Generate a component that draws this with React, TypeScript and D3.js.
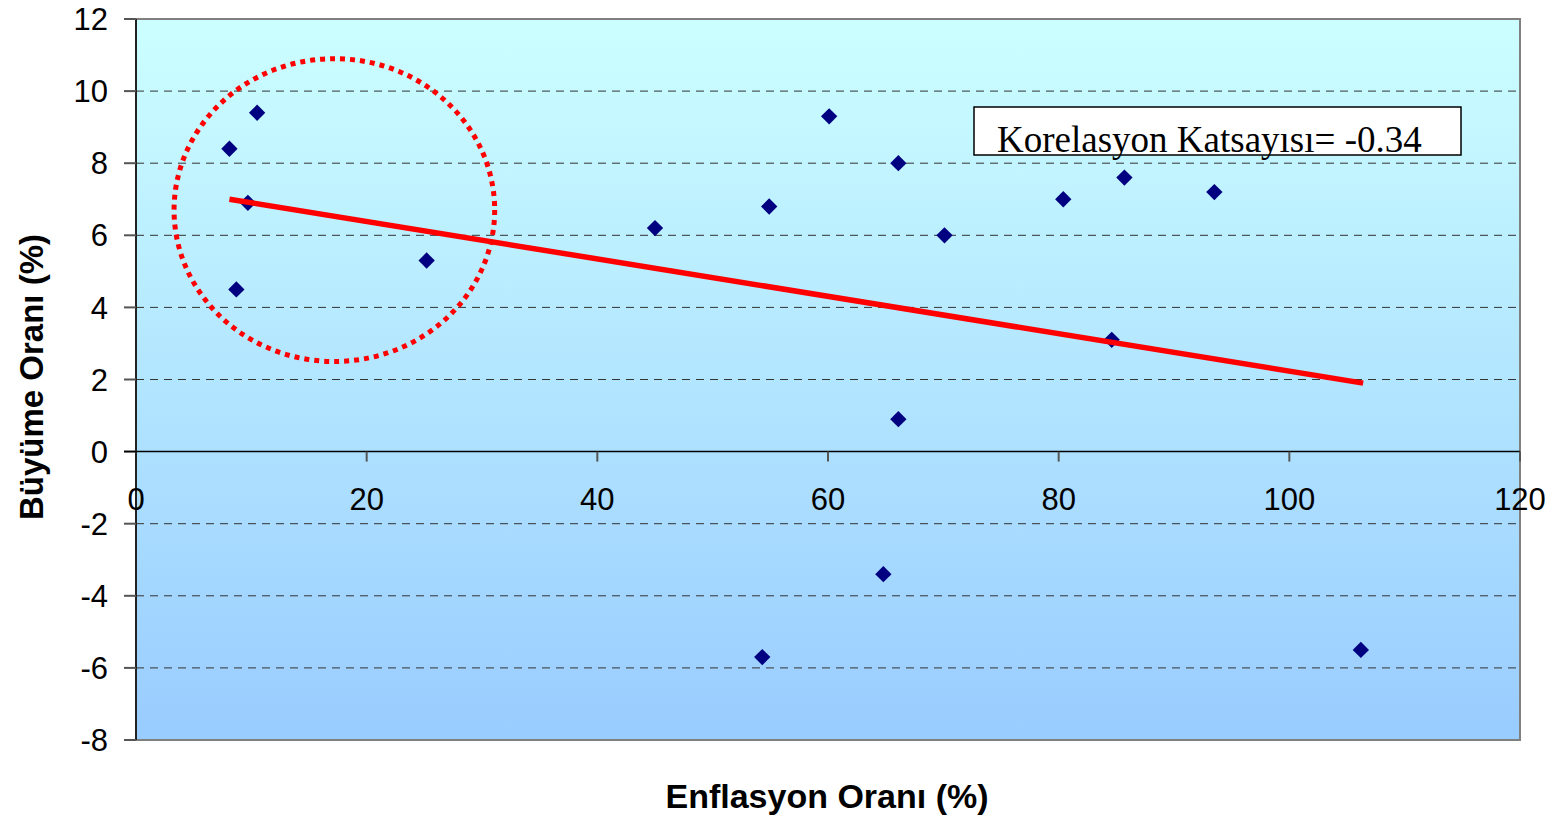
import React from 'react';
import * as d3 from 'd3';

// inflation (%) vs growth (%) points
const inflation = [8.1, 10.5, 9.7, 8.7, 25.2, 45.0, 54.9, 54.3, 60.1, 66.1, 66.1, 64.8, 70.1, 80.4, 85.7, 84.6, 93.5, 106.2];
const growth = [8.4, 9.4, 6.9, 4.5, 5.3, 6.2, 6.8, -5.7, 9.3, 8.0, 0.9, -3.4, 6.0, 7.0, 7.6, 3.1, 7.2, -5.5];

// trend line endpoints [x, y]
const trendStart = [8.1, 7.0];
const trendEnd = [106.4, 1.9];

// highlighted group ellipse (data units): centre and radii
const circleCenter = [17.2, 6.7];
const circleRadius = [13.9, 4.2];

const xTicks = [0, 20, 40, 60, 80, 100, 120];
const yTicks = [12, 10, 8, 6, 4, 2, 0, -2, -4, -6, -8];

const W = 1553;
const H = 818;
const margin = { top: 19, right: 33, bottom: 78, left: 136 };

const App: React.FC = () => {
    const x = d3.scaleLinear().domain([0, 120]).range([margin.left, W - margin.right]);
    const y = d3.scaleLinear().domain([-8, 12]).range([H - margin.bottom, margin.top]);

    const diamond = d3.symbol().type(d3.symbolDiamond2).size(170)();
    const trend = d3.line<number[]>().x(d => x(d[0])).y(d => y(d[1]))([trendStart, trendEnd]) || '';

    const x0 = x(0), x1 = x(120), yTop = y(12), yBot = y(-8);
    const sans = '"Liberation Sans", Arial, sans-serif';

    return (
        <svg width={W} height={H} style={{ position: 'absolute', left: 0, top: 0 }} fontFamily={sans}>
            <defs>
                <linearGradient id="bg" x1="0" y1="0" x2="0" y2="1">
                    <stop offset="0%" stopColor="#CCFFFF" />
                    <stop offset="100%" stopColor="#99CCFF" />
                </linearGradient>
            </defs>
            <rect x={0} y={0} width={W} height={H} fill="#fff" />
            <rect x={x0} y={yTop} width={x1 - x0} height={yBot - yTop} fill="url(#bg)" stroke="#808080" strokeWidth={2} />

            {/* grid lines */}
            {yTicks.filter(t => t !== 0 && t !== 12 && t !== -8).map(t => (
                <line key={t} x1={x0} x2={x1} y1={y(t)} y2={y(t)} stroke="#333" strokeWidth={1} strokeDasharray="8 6" />
            ))}

            {/* y axis */}
            <line x1={x0} x2={x0} y1={yTop} y2={yBot} stroke="#222" strokeWidth={2} />
            {yTicks.map(t => (
                <g key={t}>
                    <line x1={x0 - 12} x2={x0} y1={y(t)} y2={y(t)} stroke="#555" strokeWidth={2} />
                    <text x={108} y={y(t)} dy="0.36em" textAnchor="end" fontSize={31} fill="#000">{t}</text>
                </g>
            ))}

            {/* x axis at y = 0 */}
            <line x1={x0 - 12} x2={x1} y1={y(0)} y2={y(0)} stroke="#000" strokeWidth={1.5} />
            {xTicks.map(t => (
                <g key={t}>
                    {t !== 0 && <line x1={x(t)} x2={x(t)} y1={y(0)} y2={y(0) + 10} stroke="#555" strokeWidth={2} />}
                    <text x={x(t)} y={y(0) + 58} textAnchor="middle" fontSize={31} fill="#000">{t}</text>
                </g>
            ))}

            {/* points */}
            {inflation.map((v, i) => (
                <path key={i} d={diamond} transform={`translate(${x(v)},${y(growth[i])})`} fill="#000080" />
            ))}

            {/* trend line */}
            <path d={trend} stroke="#FF0000" strokeWidth={5.5} fill="none" />

            {/* highlighted group */}
            <ellipse
                cx={x(circleCenter[0])}
                cy={y(circleCenter[1])}
                rx={x(circleCenter[0] + circleRadius[0]) - x(circleCenter[0])}
                ry={y(circleCenter[1]) - y(circleCenter[1] + circleRadius[1])}
                fill="none"
                stroke="#FF0000"
                strokeWidth={5}
                strokeDasharray="5 5"
            />

            {/* correlation box */}
            <rect x={974} y={107} width={487} height={48} fill="#fff" stroke="#000" strokeWidth={1.5} />
            <text x={997} y={152} fontFamily='"Liberation Serif", "Times New Roman", serif' fontSize={37} fill="#000">
                Korelasyon Katsayısı= -0.34
            </text>

            {/* axis titles */}
            <text x={827} y={808} textAnchor="middle" fontSize={34} fontWeight="bold" fill="#000">
                Enflasyon Oranı (%)
            </text>
            <text transform={`translate(43,377) rotate(-90)`} textAnchor="middle" fontSize={33} fontWeight="bold" fill="#000">
                Büyüme Oranı (%)
            </text>
        </svg>
    );
};

export default App;
